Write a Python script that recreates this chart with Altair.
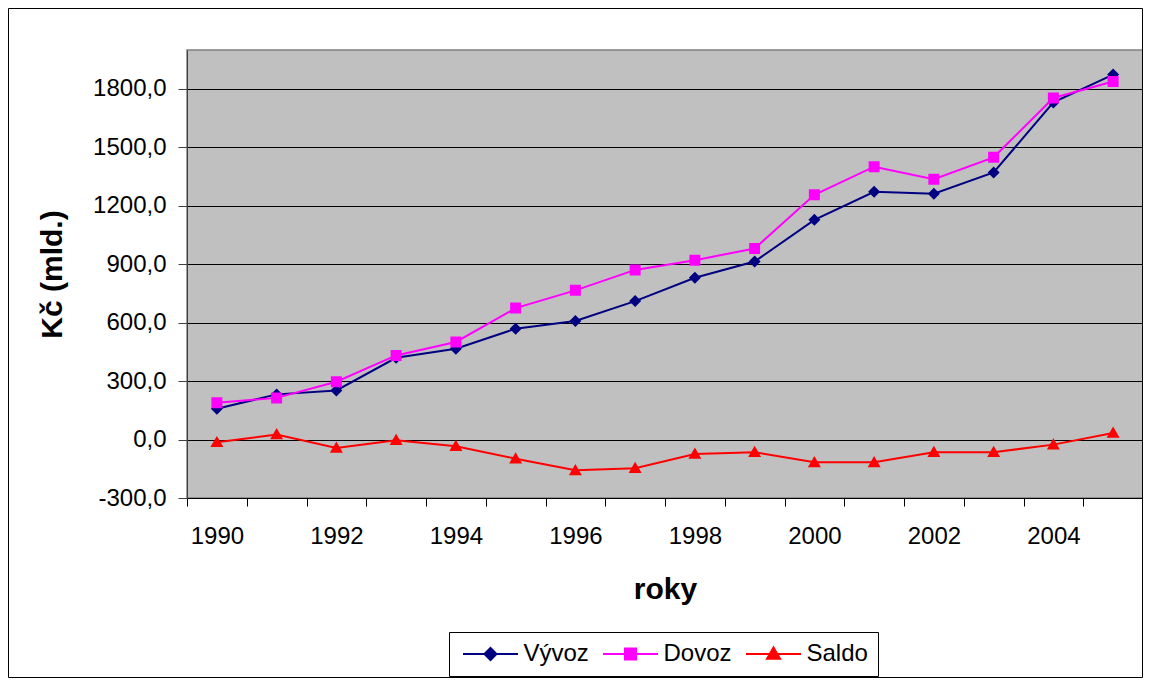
import altair as alt
import pandas as pd

FONT = "Liberation Sans"

years = ["1990", "1991", "1992", "1993", "1994", "1995", "1996", "1997",
         "1998", "1999", "2000", "2001", "2002", "2003", "2004", "2005"]
vyvoz = [158, 232, 252, 420, 466, 569, 609, 711, 831, 914, 1128, 1272, 1262, 1371, 1731, 1874]
dovoz = [189, 214, 297, 432, 501, 675, 766, 871, 921, 981, 1257, 1401, 1337, 1449, 1754, 1838]
saldo = [-14, 26, -43, -3, -34, -98, -158, -147, -74, -65, -117, -117, -65, -65, -26, 34]

series = ["Vývoz", "Dovoz", "Saldo"]
colors = ["#000080", "#FF00FF", "#FF0000"]
y_ticks = [-300, 0, 300, 600, 900, 1200, 1500, 1800]

# marker paths: a horizontal segment (only visible when stroked, i.e. in the legend)
# plus the filled marker centred on the data point
shapes = [
    "M-3.4375,0H3.4375M-0.75,0L0,-0.75L0.75,0L0,0.75Z",
    "M-3.4375,0H3.4375M-0.6875,-0.6875H0.6875V0.6875H-0.6875Z",
    "M-3.4375,0H3.4375M0,-0.8L0.8125,0.6H-0.8125Z",
]

rows = []
for name, vals in zip(series, [vyvoz, dovoz, saldo]):
    for yr, v in zip(years, vals):
        rows.append({"rok": yr, "hodnota": v, "serie": name})
df = pd.DataFrame(rows)

legend = alt.Legend(
    title=None, orient="none", legendX=262, legendY=582, direction="horizontal",
    labelFont=FONT, labelFontSize=24, labelColor="black",
    symbolOffset=19.5, labelOffset=21,
    symbolSize=256, symbolStrokeWidth=2, symbolOpacity=1, columnPadding=10,
    padding=10, strokeColor="black", fillColor="white",
)

x_enc = alt.X(
    "rok:O",
    scale=alt.Scale(type="band", paddingInner=0, paddingOuter=0),
    axis=alt.Axis(
        title="roky", titleFont=FONT, titleFontSize=30, titleFontWeight="bold",
        titleColor="black", titlePadding=26,
        labelFont=FONT, labelFontSize=24, labelColor="black", labelAngle=0,
        labelPadding=18, labelExpr="toNumber(datum.value) % 2 === 0 ? datum.label : ''",
        tickBand="extent", tickSize=8, tickColor="black", domainColor="black",
        grid=False, labelOverlap=False,
    ),
)
y_enc = alt.Y(
    "hodnota:Q",
    scale=alt.Scale(domain=[-300, 2000], nice=False, zero=False),
    axis=alt.Axis(
        title="Kč (mld.)", titleFont=FONT, titleFontSize=30, titleFontWeight="bold",
        titleColor="black", titlePadding=25,
        values=y_ticks,
        labelExpr="(datum.value < 0 ? '-' : '') + replace(format(abs(datum.value), '.1f'), '.', ',')",
        labelFont=FONT, labelFontSize=24, labelColor="black", labelPadding=12,
        tickSize=9, tickColor="#404040", domainColor="#404040",
        grid=True, gridColor="black", gridWidth=1, gridOpacity=1,
    ),
)
color_enc = alt.Color("serie:N", scale=alt.Scale(domain=series, range=colors), legend=legend)
shape_enc = alt.Shape("serie:N", scale=alt.Scale(domain=series, range=shapes), legend=legend)

layers = []
for s in series:
    base = alt.Chart(df).transform_filter(alt.datum.serie == s)
    layers.append(base.mark_line(strokeWidth=2, opacity=1).encode(x=x_enc, y=y_enc, color=color_enc))
    layers.append(base.mark_point(filled=True, size=256, opacity=1).encode(
        x=x_enc, y=y_enc, color=color_enc, shape=shape_enc))

frame = alt.Chart(alt.Data(values=[{}])).mark_rect(
    fill=None, stroke="black", strokeWidth=1, fillOpacity=0
).encode(
    x=alt.value(-178.5), x2=alt.value(955.5), y=alt.value(-41.5), y2=alt.value(627.5)
)

chart = alt.layer(*layers, frame).properties(
    width=956, height=448,
    autosize=alt.AutoSizeParams(type="none"),
    padding={"left": 179, "top": 42, "right": 0, "bottom": 180},
    background="white",
).configure_view(
    fill="#C0C0C0", stroke="#808080", strokeWidth=1.5
)

chart.save("out.html", embed_options={"renderer": "svg", "actions": False})
